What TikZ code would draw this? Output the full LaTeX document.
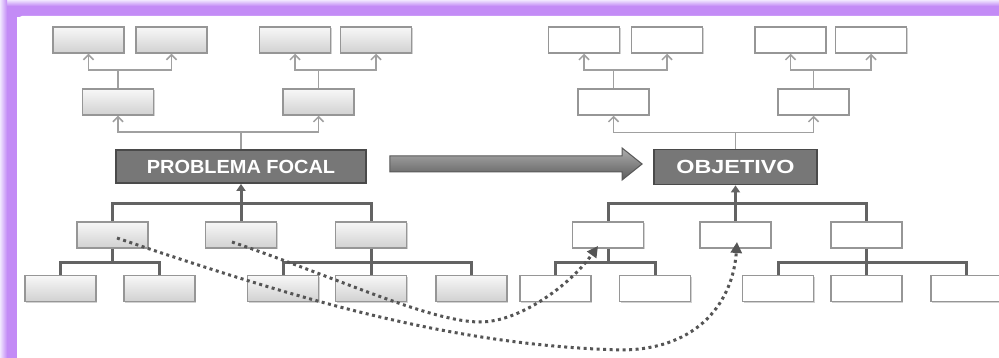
\documentclass[tikz,border=0pt]{standalone}
\usepackage{fontspec}
\setmainfont{Liberation Sans}
\usetikzlibrary{arrows.meta,shadows,calc}
\definecolor{pLight}{HTML}{F0E6FE}
\definecolor{pMid}{HTML}{C38BF6}
\definecolor{boxline}{HTML}{969696}
\definecolor{lineLight}{HTML}{A0A0A0}
\definecolor{lineDark}{HTML}{636363}
\definecolor{focfill}{HTML}{777777}
\definecolor{focline}{HTML}{4A4A4A}
\definecolor{dotcol}{HTML}{555555}
\tikzset{
  cbox/.style={rectangle, minimum width=71pt, minimum height=26pt, inner sep=0pt,
    draw=boxline, line width=1.5pt,
    drop shadow={shadow xshift=1pt, shadow yshift=-1.2pt, opacity=0.35}},
  gbox/.style={cbox, top color=black!3, bottom color=black!18},
  wbox/.style={cbox, fill=white},
  focal/.style={rectangle, draw=focline, fill=focfill, line width=1.8pt, inner sep=0pt,
    text=white, font=\bfseries\fontsize{19}{22}\selectfont},
  upline/.style={draw=lineLight, line width=1.7pt},
  uparrow/.style={upline, -{Straight Barb[length=5pt,width=10pt,line width=1.5pt]}},
  downline/.style={draw=lineDark, line width=3pt},
  uptri/.style={downline, -{Triangle[length=7pt,width=9pt]}},
  dotlink/.style={draw=dotcol, line width=3pt, dash pattern=on 3pt off 3.5pt,
    -{Triangle[length=11pt,width=11pt]}},
  bigarrow/.style={draw=black!65, line width=1pt, top color=black!32, bottom color=black!64}
}
\begin{document}
\begin{tikzpicture}[x=1pt,y=-1pt]
\useasboundingbox (0,0) rectangle (999,358);
% frame
\fill[pMid] (0,0) rectangle (999,17);
\fill[pMid] (0,0) rectangle (17,358);
\fill[top color=pLight, bottom color=pMid] (0,0) rectangle (999,6);
\fill[left color=pLight, right color=pMid] (0,0) rectangle (7,358);
\fill[white, rounded corners=5pt] (17,16) rectangle (1010,370);

% ===== left tree =====
\node[gbox] (L11) at (88.5,40) {};
\node[gbox] (L12) at (171.5,40) {};
\node[gbox] (L13) at (295,40) {};
\node[gbox] (L14) at (376,40) {};
\node[gbox] (L21) at (118,102) {};
\node[gbox] (L22) at (318.5,102) {};
\node[focal, minimum width=250pt, minimum height=33pt] (PF) at (241,166.5) {\scalebox{1.05}[1]{PROBLEMA FOCAL}};
\node[gbox] (B1) at (112.5,235) {};
\node[gbox] (B2) at (241,235) {};
\node[gbox] (B3) at (371,235) {};
\node[gbox] (C11) at (60.5,288.5) {};
\node[gbox] (C12) at (159.5,288.5) {};
\node[gbox] (C13) at (283,288.5) {};
\node[gbox] (C14) at (371,288.5) {};
\node[gbox] (C15) at (471.5,288.5) {};

% ===== right tree =====
\node[wbox] (R11) at (584,40) {};
\node[wbox] (R12) at (667,40) {};
\node[wbox] (R13) at (790.5,40) {};
\node[wbox] (R14) at (871,40) {};
\node[wbox] (R21) at (613.5,102) {};
\node[wbox] (R22) at (813.5,102) {};
\node[focal, minimum width=163pt, minimum height=35pt] (OB) at (735.5,167) {\scalebox{1.23}[1]{OBJETIVO}};
\node[wbox] (RB1) at (608,235) {};
\node[wbox] (RB2) at (735.5,235) {};
\node[wbox] (RB3) at (866.5,235) {};
\node[wbox] (RC11) at (555.5,288.5) {};
\node[wbox] (RC12) at (655,288.5) {};
\node[wbox] (RC13) at (778,288.5) {};
\node[wbox] (RC14) at (866.5,288.5) {};
\node[wbox] (RC15) at (966.5,288.5) {};

% ===== left connectors (upper) =====
\path (PF.north) ++(0,-17) coordinate (a1);
\draw[upline] (PF.north) -- (a1);
\draw[uparrow] (a1) -| (L21.south);
\draw[uparrow] (a1) -| (L22.south);
\path (L21.north) ++(0,-18) coordinate (a2);
\draw[upline] (L21.north) -- (a2);
\draw[uparrow] (a2) -| (L11.south);
\draw[uparrow] (a2) -| (L12.south);
\path (L22.north) ++(0,-18) coordinate (a3);
\draw[upline] (L22.north) -- (a3);
\draw[uparrow] (a3) -| (L13.south);
\draw[uparrow] (a3) -| (L14.south);

% ===== left connectors (lower) =====
\path (PF.south) ++(0,20) coordinate (b1);
\draw[downline] (B1.north) |- (b1) -| (B3.north);
\draw[uptri] (B2.north) -- (PF.south);
\path (B1.south) ++(0,14) coordinate (b2);
\draw[downline] (B1.south) -- (b2);
\draw[downline] (C11.north) |- (b2) -| (C12.north);
\path (B3.south) ++(0,14) coordinate (b3);
\draw[downline] (B3.south) -- (C14.north);
\draw[downline] (C13.north) |- (b3) -| (C15.north);

% ===== right connectors (upper) =====
\path (OB.north) ++(0,-16) coordinate (c1);
\draw[upline] (OB.north) -- (c1);
\draw[uparrow] (c1) -| (R21.south);
\draw[uparrow] (c1) -| (R22.south);
\path (R21.north) ++(0,-18) coordinate (c2);
\draw[upline] (R21.north) -- (c2);
\draw[uparrow] (c2) -| (R11.south);
\draw[uparrow] (c2) -| (R12.south);
\path (R22.north) ++(0,-18) coordinate (c3);
\draw[upline] (R22.north) -- (c3);
\draw[uparrow] (c3) -| (R13.south);
\draw[uparrow] (c3) -| (R14.south);

% ===== right connectors (lower) =====
\path (OB.south) ++(0,18) coordinate (d1);
\draw[downline] (RB1.north) |- (d1) -| (RB3.north);
\draw[uptri] (RB2.north) -- (OB.south);
\path (RB1.south) ++(0,14) coordinate (d2);
\draw[downline] (RB1.south) -- (d2);
\draw[downline] (RC11.north) |- (d2) -| (RC12.north);
\path (RB3.south) ++(0,14) coordinate (d3);
\draw[downline] (RB3.south) -- (RC14.north);
\draw[downline] (RC13.north) |- (d3) -| (RC15.north);

% ===== big arrow =====
\path ($(PF.east)+(23,-2.5)$) coordinate (g0);
\path ($(OB.west)+(-11,-3)$) coordinate (g1);
\draw[bigarrow] (g0) ++(0,-8) -- ($(g1)+(-20,-8)$) -- ($(g1)+(-20,-16)$) -- (g1)
  -- ($(g1)+(-20,16)$) -- ($(g1)+(-20,8)$) -- ($(g0)+(0,8)$) -- cycle;

% ===== dotted links =====
\coordinate (s1) at ($(B1.center)+(4.5,3)$);
\coordinate (e1) at ($(RB2.center)+(1.5,7)$);
\coordinate (s2) at ($(B2.center)+(-9,7)$);
\coordinate (e2) at ($(RB1.center)+(-10,11)$);
\draw[dotlink] (s1) .. controls (300,300) and (450,345) .. (620,350)
  .. controls (700,350) and (733,300) .. (e1);
\draw[dotlink] (s2) .. controls (330,275) and (430,322) .. (480,322)
  .. controls (520,322) and (570,285) .. (e2);
\end{tikzpicture}
\end{document}
